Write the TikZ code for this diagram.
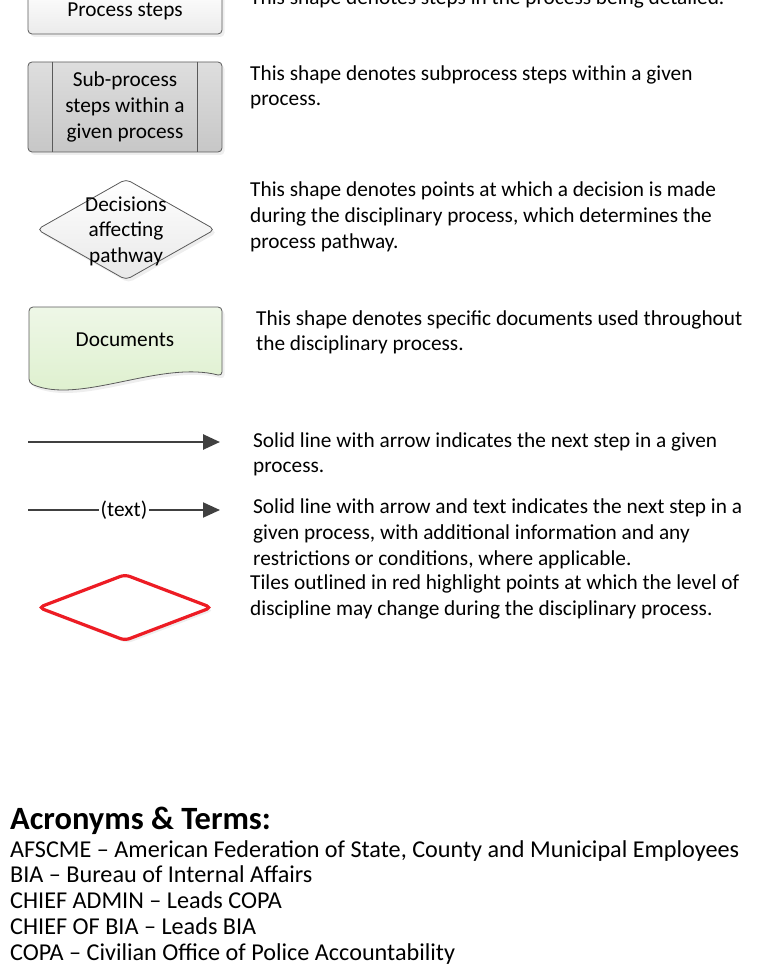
\documentclass[tikz,border=0pt]{standalone}
\usepackage{fontspec}
\setmainfont{Carlito}
\usetikzlibrary{shapes.geometric,arrows.meta,shadows}

\definecolor{edgegray}{HTML}{5A5A5A}
\definecolor{arrowgray}{HTML}{404040}
\definecolor{tilered}{HTML}{ED1C24}
\definecolor{docgreentop}{HTML}{EEF7E7}
\definecolor{docgreenbot}{HTML}{DCEFCB}

\begin{document}
\begin{tikzpicture}[x=1pt,y=-1pt,
    font=\fontsize{21.3}{25.6}\selectfont,
    softshadow/.style={drop shadow={shadow xshift=2.5pt,shadow yshift=-3pt,fill=black!13}},
    procbox/.style={draw=edgegray, line width=0.8pt, rounded corners=4pt, top color=white,
        bottom color=black!8, minimum width=194pt, minimum height=46pt, softshadow},
    subbox/.style={draw=edgegray, line width=0.8pt, rounded corners=4pt, top color=black!13,
        bottom color=black!22, minimum width=194pt, minimum height=90pt, align=center, softshadow},
    decision/.style={diamond, draw=edgegray, line width=0.8pt, rounded corners=5pt, top color=white,
        bottom color=black!9, minimum width=178pt, minimum height=101pt, inner sep=0pt, softshadow},
    docbox/.style={draw=edgegray, line width=0.8pt, rounded corners=4pt, top color=docgreentop,
        bottom color=docgreenbot, softshadow},
    redtile/.style={diamond, draw=tilered, fill=white, line width=3.2pt, rounded corners=5pt,
        minimum width=174pt, minimum height=67pt, inner sep=0pt, softshadow},
    desc/.style={anchor=base west, align=left, inner sep=0pt},
    plainline/.style={draw=arrowgray, line width=2pt},
    flow/.style={plainline, -{Triangle[length=17pt,width=15pt]}}]
\useasboundingbox (0,0) rectangle (760,976);

% legend shapes
\node[procbox] (proc) at (125,11) {Process steps};
\node[subbox] (sub) at (125,107) {Sub-process\\steps within a\\given process};
\draw[edgegray, line width=0.8pt] ([xshift=25pt]sub.north west) -- ([xshift=25pt]sub.south west);
\draw[edgegray, line width=0.8pt] ([xshift=-25pt]sub.north east) -- ([xshift=-25pt]sub.south east);
\node[decision] (dec) at (126,229.5) {};
\node[align=center, inner sep=0pt] (declbl) at ([yshift=-1.5pt]dec.center) {Decisions\\affecting\\pathway};
\draw[docbox] (29,307) -- (222,307) -- (222,376) .. controls (160,360) and (80,405) .. (29,383) -- cycle;
\node (docs) at (125,340) {Documents};

% connectors
\coordinate (f1a) at (28,442);
\coordinate (f1b) at (220,442);
\draw[flow, line width=2.6pt] (f1a) -- (f1b);
\coordinate (f2a) at (28,510);
\coordinate (f2b) at (220,510);
\node[inner sep=2pt] (lbl) at (124,510) {(text)};
\draw[plainline] (f2a) -- (lbl.west);
\draw[flow] (lbl.east) -- (f2b);

\node[redtile] (tile) at (125,607.5) {};

% descriptions (base = last line)
\node[desc] (d1) at (250,5) {This shape denotes steps in the process being detailed.};
\node[desc] (d2) at (250,106) {This shape denotes subprocess steps within a given\\process.};
\node[desc] (d3) at (250,248) {This shape denotes points at which a decision is made\\during the disciplinary process, which determines the\\process pathway.};
\node[desc] (d4) at (256,350.6) {This shape denotes specific documents used throughout\\the disciplinary process.};
\node[desc] (d5) at (253,472.6) {Solid line with arrow indicates the next step in a given\\process.};
\node[desc] (d6) at (253,565) {Solid line with arrow and text indicates the next step in a\\given process, with additional information and any\\restrictions or conditions, where applicable.};
\node[desc] (d7) at (250,615.4) {Tiles outlined in red highlight points at which the level of\\discipline may change during the disciplinary process.};

% acronyms
\node[desc, font=\fontsize{32.5}{36}\selectfont\bfseries] (ttl) at (10,829) {Acronyms \& Terms:};
\node[desc, font=\fontsize{24.2}{25.75}\selectfont] (terms) at (10,960) {AFSCME – American Federation of State, County and Municipal Employees\\
BIA – Bureau of Internal Affairs\\
CHIEF ADMIN – Leads COPA\\
CHIEF OF BIA – Leads BIA\\
COPA – Civilian Office of Police Accountability};
\end{tikzpicture}
\end{document}
